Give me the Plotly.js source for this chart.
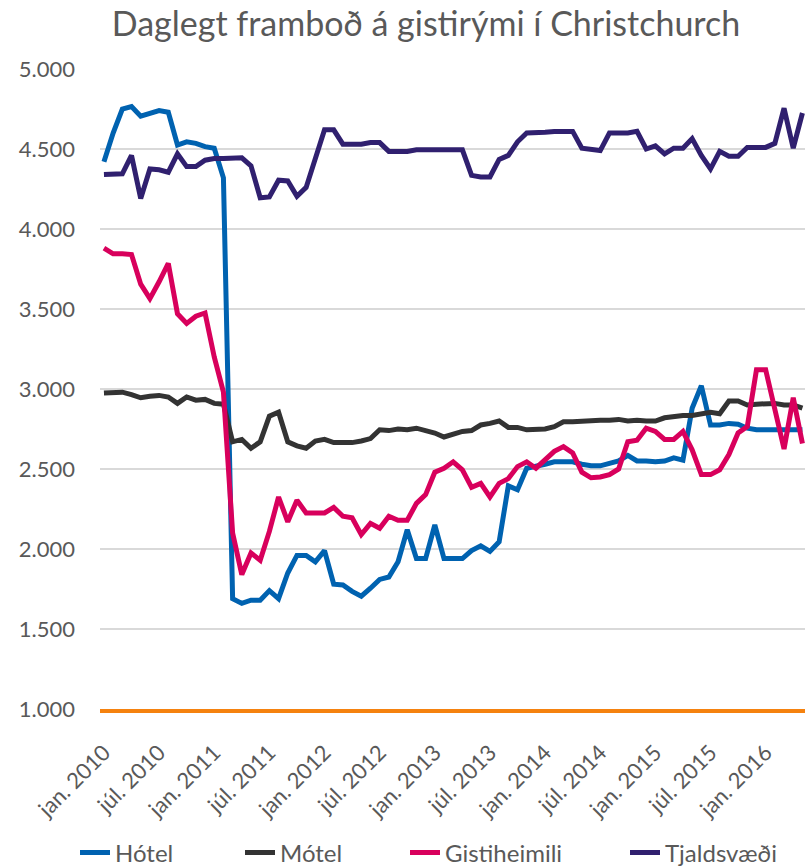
<!DOCTYPE html>
<html>
<head>
<meta charset="utf-8">
<script src="https://cdn.plot.ly/plotly-3.0.1.min.js"></script>
<style>
  body { margin: 0; background: #fff; }
  #graphs-div { width: 805px; height: 868px; }
</style>
</head>
<body>
<div id="graphs-div"></div>
<script>
// months jan. 2010 - maí 2016
const monthNames = ['jan.', 'feb.', 'mar.', 'apr.', 'maí', 'jún.', 'júl.', 'ágú.', 'sep.', 'okt.', 'nóv.', 'des.'];
const startYear = 2010;
const monthCount = 77;

const hotel = [4420, 4600, 4750, 4765, 4705, 4720, 4740, 4730, 4525, 4545, 4535, 4515, 4505, 4320,
    1690, 1660, 1680, 1680, 1740, 1690, 1850, 1960, 1960, 1920, 1990, 1780, 1775, 1735, 1705, 1755,
    1810, 1825, 1920, 2120, 1940, 1940, 2150, 1940, 1940, 1940, 1990, 2020, 1985, 2045, 2395, 2370,
    2505, 2515, 2530, 2545, 2545, 2545, 2530, 2520, 2520, 2535, 2550, 2585, 2550, 2550, 2545, 2550,
    2570, 2555, 2880, 3020, 2775, 2775, 2785, 2780, 2755, 2745, 2745, 2745, 2745, 2745, 2745];

const motel = [2975, 2980, 2980, 2965, 2945, 2955, 2960, 2950, 2910, 2950, 2930, 2935, 2910, 2905,
    2670, 2685, 2630, 2670, 2830, 2855, 2670, 2645, 2630, 2675, 2685, 2665, 2665, 2665, 2675, 2690,
    2745, 2740, 2750, 2745, 2755, 2740, 2725, 2700, 2720, 2735, 2740, 2775, 2785, 2800, 2760, 2760,
    2745, 2745, 2750, 2765, 2795, 2795, 2800, 2800, 2805, 2805, 2810, 2800, 2805, 2800, 2800, 2820,
    2830, 2835, 2835, 2845, 2855, 2845, 2925, 2925, 2900, 2905, 2910, 2910, 2900, 2900, 2880];

const gistiheimili = [3880, 3845, 3845, 3840, 3655, 3565, 3670, 3785, 3470, 3410, 3455, 3475, 3200, 2980,
    2100, 1840, 1975, 1930, 2110, 2325, 2170, 2305, 2225, 2225, 2225, 2260, 2205, 2195, 2090, 2160,
    2130, 2205, 2180, 2180, 2285, 2340, 2480, 2505, 2545, 2495, 2385, 2410, 2325, 2410, 2440, 2515,
    2545, 2505, 2560, 2610, 2640, 2600, 2480, 2445, 2450, 2465, 2500, 2670, 2680, 2755, 2735, 2685,
    2685, 2735, 2620, 2465, 2465, 2495, 2590, 2725, 2765, 3120, 3120, 2870, 2625, 2945, 2660];

const tjaldsvaedi = [4340, 4340, 4345, 4460, 4190, 4375, 4370, 4355, 4470, 4390, 4390, 4430, 4440, 4440,
    4440, 4445, 4395, 4195, 4200, 4305, 4300, 4205, 4260, 4430, 4620, 4620, 4530, 4530, 4530, 4540,
    4540, 4485, 4485, 4485, 4495, 4495, 4495, 4495, 4495, 4495, 4335, 4325, 4325, 4435, 4460, 4545,
    4600, 4600, 4605, 4610, 4610, 4610, 4505, 4495, 4490, 4600, 4600, 4600, 4610, 4500, 4520, 4470,
    4505, 4505, 4565, 4460, 4375, 4485, 4455, 4455, 4510, 4510, 4510, 4535, 4755, 4505, 4725];

const seriesNames = ['Hótel', 'Mótel', 'Gistiheimili', 'Tjaldsvæði'];
const seriesColors = ['#0062B0', '#333333', '#D8005C', '#30206F'];

const yTicks = [1000, 1500, 2000, 2500, 3000, 3500, 4000, 4500, 5000];

// left edge of each legend entry, in page pixels
const legendLeft = [75, 240, 405, 625];

function makeCategories() {
    let cats = [];
    for (let i = 0; i < monthCount; i++) {
        cats.push(monthNames[i % 12] + ' ' + (startYear + Math.floor(i / 12)));
    }
    return cats;
}

function drawGraph() {
    const categories = makeCategories();
    const values = [hotel, motel, gistiheimili, tjaldsvaedi];
    const font = 'Lato, "Open Sans", sans-serif';

    let data = [];
    for (let s = 0; s < values.length; s++) {
        data.push({
            x: categories,
            y: values[s],
            mode: 'lines',
            type: 'scatter',
            name: seriesNames[s],
            legend: s === 0 ? 'legend' : 'legend' + (s + 1),
            line: { color: seriesColors[s], width: 5 }
        });
    }

    // every 6th month gets a label
    let tickCats = [];
    for (let i = 0; i < categories.length; i += 6) {
        tickCats.push(categories[i]);
    }

    const layout = {
        width: 805,
        height: 868,
        margin: { l: 100, r: 0, t: 69, b: 159 },
        paper_bgcolor: '#ffffff',
        plot_bgcolor: '#ffffff',
        separators: ',.',
        font: { family: font, color: '#595959', size: 22 },
        title: {
            text: 'Daglegt framboð á gistirými í Christchurch',
            font: { family: font, size: 34, color: '#595959' },
            xref: 'container', x: 426 / 805, xanchor: 'center',
            yref: 'container', y: 1 - 24 / 868, yanchor: 'middle'
        },
        xaxis: {
            type: 'category',
            range: [-0.43, 76.28],
            tickmode: 'array',
            tickvals: tickCats,
            ticktext: tickCats,
            tickangle: -45,
            ticks: '',
            ticklabelstandoff: 18,
            showgrid: false,
            zeroline: false,
            showline: true,
            linecolor: '#F5820F',
            linewidth: 4,
            automargin: false,
            tickfont: { size: 22, color: '#595959' }
        },
        yaxis: {
            range: [1000, 5000],
            tickmode: 'array',
            tickvals: yTicks,
            tickformat: ',d',
            ticks: '',
            ticklabelstandoff: 24,
            showgrid: true,
            gridcolor: '#D9D9D9',
            gridwidth: 1.5,
            zeroline: false,
            showline: false,
            automargin: false,
            tickfont: { size: 22, color: '#595959' }
        },
        showlegend: true
    };

    // one small legend per series so each sits where it does in the picture
    for (let s = 0; s < seriesNames.length; s++) {
        const key = s === 0 ? 'legend' : 'legend' + (s + 1);
        layout[key] = {
            orientation: 'h',
            xref: 'container', x: legendLeft[s] / 805, xanchor: 'left',
            yref: 'container', y: 1 - 853 / 868, yanchor: 'middle',
            font: { family: font, size: 24, color: '#595959' },
            bgcolor: 'rgba(0,0,0,0)'
        };
    }

    Plotly.newPlot('graphs-div', data, layout, { displayModeBar: false, staticPlot: true });
}

drawGraph();
</script>
</body>
</html>
